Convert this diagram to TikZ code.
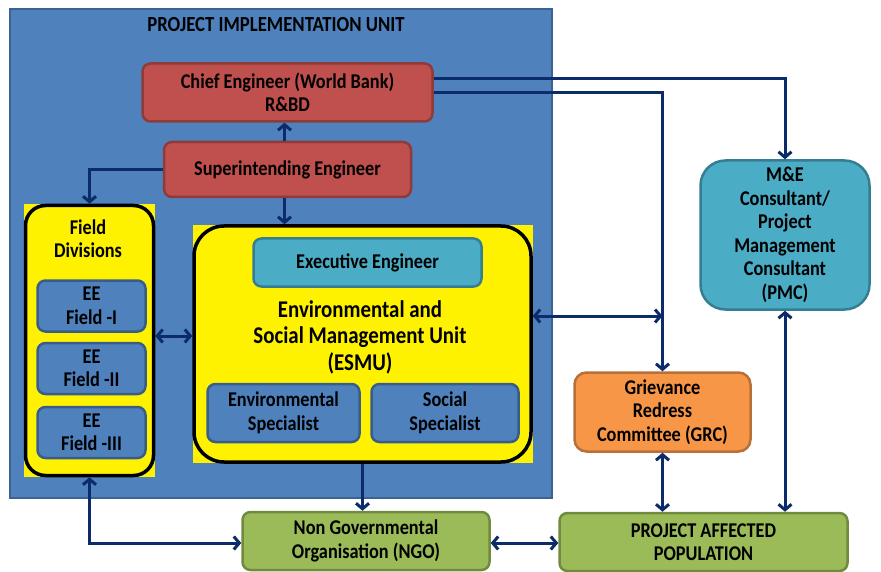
\documentclass[tikz,border=0pt]{standalone}
\usepackage{fontspec}
\setmainfont{Carlito}[FakeStretch=0.87]
\usetikzlibrary{arrows.meta}
\definecolor{piu}{HTML}{4F81BD}
\definecolor{piub}{HTML}{3A6394}
\definecolor{redf}{HTML}{C0504D}
\definecolor{redb}{HTML}{8E3B39}
\definecolor{tealf}{HTML}{4BACC6}
\definecolor{tealb}{HTML}{357E92}
\definecolor{orgf}{HTML}{F79646}
\definecolor{orgb}{HTML}{B8703A}
\definecolor{grnf}{HTML}{9BBB59}
\definecolor{grnb}{HTML}{718B3E}
\definecolor{blueb}{HTML}{385D8A}
\definecolor{navy}{HTML}{0C2B6B}
\newcommand\lbl{\bfseries\fontsize{21}{23.5}\selectfont}
\tikzset{
  box/.style={draw, line width=2.5pt, rounded corners=8pt, align=center, inner sep=0pt, font=\lbl, text=black},
  redbox/.style={box, draw=redb, fill=redf},
  tealbox/.style={box, draw=tealb, fill=tealf},
  bluebox/.style={box, draw=blueb, fill=piu},
  orgbox/.style={box, draw=orgb, fill=orgf, rounded corners=12pt},
  grnbox/.style={box, draw=grnb, fill=grnf},
  grpbox/.style={draw=black, fill=yellow, line width=3.5pt, inner sep=0pt},
  arr/.style={draw=navy, line width=3pt, -{Straight Barb[length=5.5pt,width=13pt]}},
  darr/.style={draw=navy, line width=3pt, {Straight Barb[length=5.5pt,width=13pt]}-{Straight Barb[length=5.5pt,width=13pt]}}
}
\begin{document}
\begin{tikzpicture}[x=1pt,y=-1pt]
\useasboundingbox[fill=white] (0,0) rectangle (881,572);
% PIU
\node[draw=piub, fill=piu, line width=2.5pt, minimum width=542pt, minimum height=489pt, inner sep=0pt] (piu) at (281,253.5) {};
\node[font=\bfseries\fontsize{21.5}{22}\selectfont] (title) at (276,25) {PROJECT IMPLEMENTATION UNIT};
\node[redbox, minimum width=290pt, minimum height=58pt] (ce) at (287.5,92.5) {Chief Engineer (World Bank)\\R\&BD};
\node[redbox, minimum width=247pt, minimum height=55pt] (se) at (287.5,169.5) {Superintending Engineer};
% Field divisions
\fill[yellow] (24,204) rectangle (155,477);
\node[grpbox, minimum width=128pt, minimum height=270pt, rounded corners=20pt] (fd) at (89.5,340.5) {};
\node[font=\lbl, align=center] (fdt) at (88,238.5) {Field\\Divisions};
\node[bluebox, minimum width=108pt, minimum height=51pt] (ee1) at (91.5,306) {EE\\Field -I};
\node[bluebox, minimum width=108pt, minimum height=51pt] (ee2) at (91.5,368.5) {EE\\Field -II};
\node[bluebox, minimum width=108pt, minimum height=51pt] (ee3) at (91.5,432.5) {EE\\Field -III};
% ESMU
\fill[yellow] (193,225) rectangle (533,463);
\node[grpbox, minimum width=337pt, minimum height=236pt, rounded corners=30pt] (esmu) at (362.5,344) {};
\node[tealbox, minimum width=228pt, minimum height=48pt] (exe) at (367.5,262.5) {Executive Engineer};
\node[font=\bfseries\fontsize{24}{26.5}\selectfont, align=center] (esmut) at (360,337) {Environmental and\\Social Management Unit\\(ESMU)};
\node[bluebox, minimum width=152pt, minimum height=58pt] (env) at (283.5,413) {Environmental\\Specialist};
\node[bluebox, minimum width=147pt, minimum height=58pt] (soc) at (445,413) {Social\\Specialist};
% outside
\node[tealbox, rounded corners=25pt, minimum width=169pt, minimum height=149pt] (pmc) at (785,235) {M\&E\\Consultant/\\Project\\Management\\Consultant\\(PMC)};
\node[orgbox, minimum width=176pt, minimum height=79pt] (grc) at (662.5,412) {Grievance\\Redress\\Committee (GRC)};
\node[grnbox, minimum width=247pt, minimum height=58pt] (ngo) at (366,541) {Non Governmental\\Organisation (NGO)};
\node[grnbox, minimum width=288pt, minimum height=58pt] (pap) at (703.5,542) {PROJECT AFFECTED\\POPULATION};
\coordinate (j1) at (662.5,316);
% connectors
\draw[arr] ([xshift=-3pt]se.north) -- ([xshift=-3pt]se.north |- ce.south);
\draw[arr] (se.west) -| (fd.north);
\draw[arr] ([xshift=-3pt]se.south) -- ([xshift=-3pt]se.south |- esmu.north);
\draw[darr] (fd.east |- 0,336) -- (esmu.west |- 0,336);
\draw[darr] (esmu.east |- j1) -- (j1);
\draw[arr] (ce.east |- 0,79) -| (pmc.north);
\draw[arr] (ce.east |- 0,93) -| (grc.north);
\draw[darr] (grc.south) -- (grc.south |- pap.north);
\draw[darr] (pmc.south) -- (pmc.south |- pap.north);
\draw[arr] (esmu.south) -- (esmu.south |- ngo.north);
\draw[darr] (ngo.east |- 0,543) -- (pap.west |- 0,543);
\draw[darr] (fd.south) |- (ngo.west |- 0,543);
\end{tikzpicture}
\end{document}
